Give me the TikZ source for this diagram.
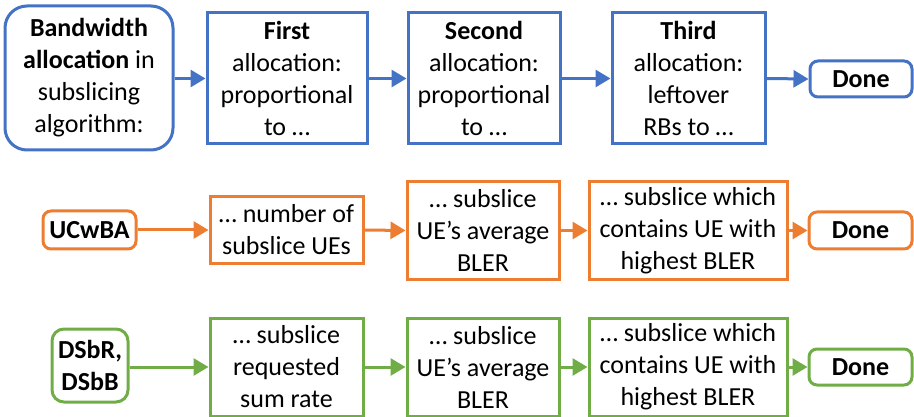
\documentclass[tikz,border=0pt]{standalone}
\usepackage{fontspec}
\setmainfont{Carlito}
\usetikzlibrary{arrows.meta}
\definecolor{cblue}{HTML}{4472C4}
\definecolor{corange}{HTML}{ED7D31}
\definecolor{cgreen}{HTML}{70AD47}
\tikzset{
  box/.style={draw, line width=3pt, fill=white, text=black, inner sep=0pt, align=center,
    font=\fontsize{26pt}{32pt}\selectfont},
  rbox/.style={box, rounded corners=#1},
  arr/.style={line width=3pt, -{Triangle[length=15pt,width=17pt]}},
}
\begin{document}
\begin{tikzpicture}[x=1pt,y=-1pt]
\useasboundingbox (0,0) rectangle (914,417);

% Row 1: general scheme
\begin{scope}[cblue]
\node[rbox=22pt, minimum width=168pt, minimum height=144pt] (a1) at (89,78)
  {\textbf{Bandwidth}\\\textbf{allocation} in\\subslicing\\algorithm:};
\node[box, minimum width=160pt, minimum height=131pt] (b1) at (287,78.5)
  {\textbf{First}\\allocation:\\proportional\\to …};
\node[box, minimum width=152pt, minimum height=131pt] (c1) at (484,78.5)
  {\textbf{Second}\\allocation:\\proportional\\to …};
\node[box, minimum width=153pt, minimum height=131pt] (d1) at (688.5,78.5)
  {\textbf{Third}\\allocation:\\leftover\\RBs to …};
\node[rbox=8pt, minimum width=102pt, minimum height=36pt] (e1) at (861,79)
  {\textbf{Done}};
\draw[arr] (a1.east |- b1.west) -- (b1.west);
\draw[arr] (b1.east) -- (c1.west);
\draw[arr] (c1.east) -- (d1.west);
\draw[arr] (d1.east) -- (e1.west);
\end{scope}

% Row 2: UCwBA
\begin{scope}[corange]
\node[rbox=8pt, minimum width=93pt, minimum height=38pt] (a2) at (89.5,230)
  {\textbf{UCwBA}};
\node[box, minimum width=153pt, minimum height=66pt] (b2) at (286.5,230)
  {… number of\\subslice UEs};
\node[box, minimum width=152pt, minimum height=97pt] (c2) at (483,230.5)
  {… subslice\\UE’s average\\BLER};
\node[box, minimum width=198pt, minimum height=97pt] (d2) at (688,230.5)
  {… subslice which\\contains UE with\\highest BLER};
\node[rbox=8pt, minimum width=103pt, minimum height=37pt] (e2) at (860.5,230.5)
  {\textbf{Done}};
\draw[arr] (a2.east) -- (b2.west);
\draw[arr] (b2.east) -- (c2.west);
\draw[arr] (c2.east) -- (d2.west);
\draw[arr] (d2.east) -- (e2.west);
\end{scope}

% Row 3: DSbR, DSbB
\begin{scope}[cgreen]
\node[rbox=12pt, minimum width=76pt, minimum height=73pt] (a3) at (90,365.5)
  {\textbf{DSbR,}\\\textbf{DSbB}};
\node[box, minimum width=153pt, minimum height=98pt] (b3) at (286.5,367)
  {… subslice\\requested\\sum rate};
\node[box, minimum width=152pt, minimum height=98pt] (c3) at (483,367)
  {… subslice\\UE’s average\\BLER};
\node[box, minimum width=198pt, minimum height=98pt] (d3) at (688,367)
  {… subslice which\\contains UE with\\highest BLER};
\node[rbox=8pt, minimum width=103pt, minimum height=36pt] (e3) at (860.5,367)
  {\textbf{Done}};
\draw[arr] (a3.east |- b3.west) -- (b3.west);
\draw[arr] (b3.east) -- (c3.west);
\draw[arr] (c3.east) -- (d3.west);
\draw[arr] (d3.east) -- (e3.west);
\end{scope}
\end{tikzpicture}
\end{document}
